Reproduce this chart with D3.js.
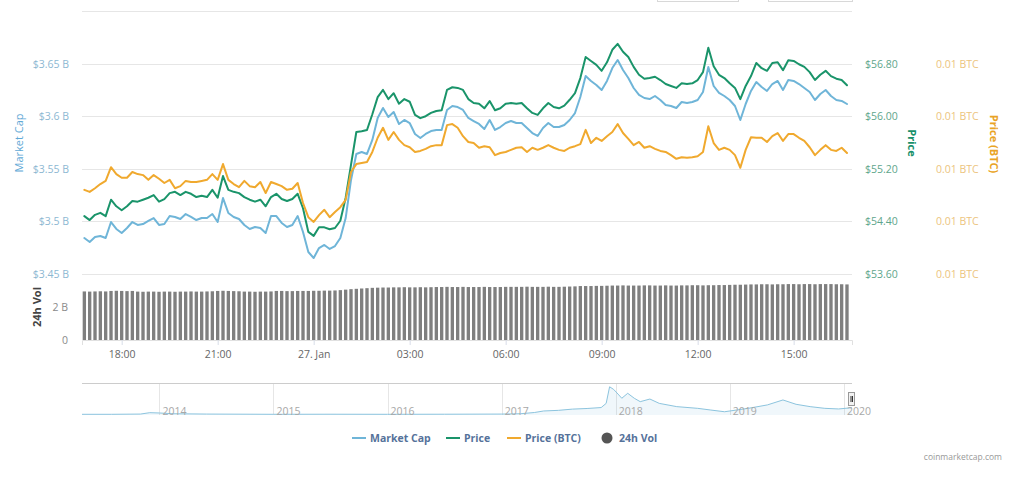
<!DOCTYPE html>
<html><head><meta charset="utf-8">
<script src="https://cdn.jsdelivr.net/npm/d3@7"></script>
<style>
body{margin:0;background:#fff;}
svg{display:block;font-family:"Open Sans",sans-serif;}
</style>
</head><body>
<svg id="chart" width="1024" height="488"></svg>
<script>
// ---------- data ----------
const startTime = new Date(2020, 0, 26, 16, 50);
const stepMinutes = 10;

const marketCap = [3.4842,3.4804,3.4852,3.4861,3.4842,3.4994,3.4928,3.4890,3.4937,3.4994,
 3.4966,3.4975,3.5004,3.5032,3.4966,3.4975,3.5051,3.5042,3.5023,3.5070,
 3.5042,3.5013,3.5032,3.5032,3.5070,3.4994,3.5222,3.5080,3.5042,3.5023,
 3.4966,3.4928,3.4947,3.4937,3.4890,3.5051,3.5051,3.4985,3.4947,3.4966,
 3.5051,3.4899,3.4709,3.4652,3.4747,3.4776,3.4738,3.4766,3.4842,3.5032,
 3.5394,3.5641,3.5660,3.5641,3.5774,3.5983,3.6078,3.5992,3.6040,3.5926,
 3.5964,3.5935,3.5831,3.5793,3.5831,3.5859,3.5869,3.5869,3.6059,3.6097,
 3.6087,3.6059,3.5983,3.5954,3.5926,3.5878,3.5964,3.5869,3.5897,3.5935,
 3.5954,3.5935,3.5935,3.5888,3.5840,3.5812,3.5888,3.5935,3.5897,3.5897,
 3.5916,3.5964,3.6030,3.6183,3.6382,3.6335,3.6297,3.6249,3.6335,3.6458,
 3.6534,3.6439,3.6363,3.6268,3.6202,3.6173,3.6163,3.6192,3.6154,3.6106,
 3.6097,3.6078,3.6135,3.6125,3.6135,3.6154,3.6230,3.6468,3.6287,3.6221,
 3.6192,3.6154,3.6097,3.5964,3.6116,3.6240,3.6325,3.6278,3.6240,3.6306,
 3.6335,3.6249,3.6344,3.6335,3.6306,3.6268,3.6230,3.6154,3.6211,3.6249,
 3.6192,3.6154,3.6145,3.6116];

const price = [54.48,54.42,54.50,54.53,54.48,54.73,54.63,54.57,54.63,54.71,
 54.70,54.73,54.76,54.80,54.70,54.74,54.83,54.85,54.80,54.85,
 54.82,54.77,54.79,54.77,54.88,54.76,55.09,54.88,54.85,54.83,
 54.77,54.73,54.70,54.73,54.63,54.77,54.82,54.74,54.71,54.74,
 54.82,54.60,54.24,54.18,54.31,54.31,54.28,54.30,54.41,54.76,
 55.26,55.76,55.77,55.79,56.03,56.29,56.40,56.26,56.35,56.19,
 56.26,56.22,56.02,55.97,56.00,56.05,56.08,56.09,56.40,56.44,
 56.43,56.40,56.26,56.20,56.19,56.12,56.23,56.09,56.12,56.19,
 56.20,56.19,56.20,56.12,56.05,56.02,56.12,56.20,56.14,56.12,
 56.16,56.25,56.35,56.58,56.90,56.84,56.78,56.69,56.82,57.01,
 57.10,56.98,56.90,56.75,56.63,56.57,56.58,56.60,56.55,56.49,
 56.46,56.43,56.50,56.49,56.50,56.55,56.67,57.04,56.76,56.63,
 56.58,56.50,56.43,56.26,56.46,56.61,56.81,56.73,56.69,56.81,
 56.82,56.70,56.85,56.84,56.79,56.75,56.67,56.55,56.63,56.69,
 56.61,56.57,56.55,56.47];

const priceBTC = [0.006460,0.006456,0.006463,0.006471,0.006477,0.006503,0.006490,0.006483,0.006483,0.006494,
 0.006490,0.006488,0.006479,0.006488,0.006481,0.006473,0.006479,0.006463,0.006467,0.006477,
 0.006475,0.006475,0.006477,0.006479,0.006490,0.006479,0.006509,0.006479,0.006471,0.006465,
 0.006477,0.006467,0.006465,0.006475,0.006454,0.006475,0.006471,0.006467,0.006460,0.006462,
 0.006473,0.006435,0.006408,0.006399,0.006412,0.006422,0.006408,0.006418,0.006427,0.006441,
 0.006494,0.006509,0.006511,0.006513,0.006532,0.006559,0.006578,0.006555,0.006570,0.006555,
 0.006545,0.006541,0.006532,0.006534,0.006538,0.006543,0.006545,0.006545,0.006583,0.006585,
 0.006578,0.006562,0.006551,0.006549,0.006540,0.006543,0.006541,0.006526,0.006530,0.006532,
 0.006536,0.006540,0.006541,0.006532,0.006540,0.006536,0.006540,0.006545,0.006540,0.006536,
 0.006534,0.006540,0.006543,0.006547,0.006574,0.006549,0.006559,0.006553,0.006562,0.006570,
 0.006585,0.006568,0.006557,0.006545,0.006551,0.006540,0.006543,0.006538,0.006534,0.006532,
 0.006526,0.006519,0.006522,0.006521,0.006522,0.006524,0.006532,0.006581,0.006549,0.006536,
 0.006540,0.006536,0.006526,0.006502,0.006536,0.006560,0.006559,0.006559,0.006551,0.006562,
 0.006568,0.006553,0.006566,0.006566,0.006559,0.006553,0.006541,0.006526,0.006536,0.006545,
 0.006536,0.006534,0.006540,0.006530];

const volume24h = [2.97,2.96,2.97,2.98,2.97,3.00,3.01,3.00,2.99,3.00,
 2.96,2.95,2.96,2.96,2.95,2.96,2.96,2.95,2.96,2.96,
 2.97,2.96,2.96,2.97,2.98,3.00,3.01,3.00,2.99,2.98,
 2.96,2.96,2.95,2.96,2.96,2.97,3.00,3.00,2.99,2.99,
 3.00,3.00,3.00,3.01,3.01,3.02,3.02,3.03,3.05,3.08,
 3.11,3.13,3.15,3.17,3.19,3.20,3.21,3.21,3.22,3.22,
 3.23,3.22,3.22,3.23,3.22,3.23,3.24,3.24,3.25,3.24,
 3.24,3.25,3.24,3.24,3.24,3.25,3.24,3.24,3.24,3.25,
 3.25,3.25,3.25,3.26,3.25,3.25,3.25,3.26,3.25,3.25,
 3.26,3.27,3.28,3.30,3.30,3.30,3.31,3.31,3.32,3.33,
 3.33,3.34,3.33,3.33,3.33,3.34,3.34,3.33,3.33,3.34,
 3.33,3.33,3.34,3.34,3.35,3.35,3.34,3.35,3.35,3.36,
 3.36,3.37,3.38,3.38,3.39,3.40,3.40,3.41,3.41,3.40,
 3.41,3.41,3.42,3.42,3.41,3.42,3.42,3.41,3.42,3.42,
 3.42,3.41,3.41,3.40];

const mcTicks = [3.45, 3.5, 3.55, 3.6, 3.65, 3.7];
const priceTicks = [53.6, 54.4, 55.2, 56.0, 56.8];
const btcTicks = [0.0063, 0.0064, 0.0065, 0.0066, 0.0067];
const volTicks = [0, 2];

// navigator history (market cap, $B)
const navDates = ["2013-04-28","2013-08-01","2013-11-01","2013-12-01","2014-01-01","2014-02-15","2014-06-01",
 "2015-01-01","2015-07-01","2016-01-01","2016-07-01","2017-01-01","2017-03-01","2017-04-15","2017-05-15",
 "2017-07-01","2017-08-15","2017-10-01","2017-11-15","2017-12-01","2017-12-12","2017-12-25","2018-01-08",
 "2018-01-20","2018-02-08","2018-03-01","2018-03-20","2018-04-20","2018-05-20","2018-07-15","2018-09-20",
 "2018-11-01","2018-12-15","2019-03-01","2019-05-01","2019-06-20","2019-08-01","2019-09-15","2019-11-01",
 "2019-12-15","2020-01-27"];
const navMarketCap = [0.45,0.45,0.6,1.5,1.3,0.8,0.6,
 0.45,0.5,0.45,0.5,0.6,0.8,1.6,2.6,
 3.0,3.8,4.2,4.8,7.5,18.2,16.5,13.5,
 10.8,14.0,10.8,8.6,10.3,7.5,5.4,4.3,
 3.2,2.1,4.3,6.5,9.7,6.9,5.4,4.3,
 3.9,4.7];
const navYears = [2014, 2015, 2016, 2017, 2018, 2019, 2020];

const legendItems = ["Market Cap", "Price", "Price (BTC)", "24h Vol"];

// ---------- layout ----------
const svg = d3.select("#chart");
const L = 82, R = 852;
const mainTop = 11, mainBot = 274;
const volTop = 274.6, volBot = 340;
const colBlue = "#6fb5d8", colGreen = "#1a946a", colOrange = "#f0a92e", colVol = "#7f7f7f";

const times = marketCap.map((_, i) => new Date(startTime.getTime() + i * stepMinutes * 60000));

const x = d3.scaleTime()
  .domain([new Date(2020, 0, 26, 16, 45, 36), new Date(2020, 0, 27, 16, 49, 24)])
  .range([L, R]);
const yMC = d3.scaleLinear().domain([3.45, 3.70]).range([mainBot, mainTop]);
const yP = d3.scaleLinear().domain([53.6, 57.6]).range([mainBot, mainTop]);
const yB = d3.scaleLinear().domain([0.0063, 0.0068]).range([mainBot, mainTop]);
const yV = d3.scaleLinear().domain([0, 4]).range([volBot, volTop]);

// faint range-input boxes at the very top
svg.append("rect").attr("x", 657.5).attr("y", -20).attr("width", 81).attr("height", 21.5)
  .attr("fill", "none").attr("stroke", "#d8d8d8");
svg.append("rect").attr("x", 768.5).attr("y", -20).attr("width", 84).attr("height", 21.5)
  .attr("fill", "none").attr("stroke", "#d8d8d8");

// gridlines
svg.append("g").selectAll("line").data(mcTicks).join("line")
  .attr("x1", L).attr("x2", R)
  .attr("y1", d => Math.round(yMC(d)) + 0.5).attr("y2", d => Math.round(yMC(d)) + 0.5)
  .attr("stroke", "#e6e6e6");

// left axis labels
svg.append("g").selectAll("text").data(mcTicks.filter(d => d < 3.7)).join("text")
  .attr("x", 69).attr("y", d => yMC(d) + 4)
  .attr("text-anchor", "end").attr("font-size", 10.5).attr("fill", "#8db8d2")
  .text(d => "$" + d3.format(".3~f")(d) + " B");

// right axis labels
svg.append("g").selectAll("text").data(priceTicks).join("text")
  .attr("x", 865).attr("y", d => yP(d) + 4)
  .attr("font-size", 10.5).attr("fill", "#5ea68c")
  .text(d => "$" + d3.format(".2f")(d));
svg.append("g").selectAll("text").data(btcTicks).join("text")
  .attr("x", 936).attr("y", d => yB(d) + 4)
  .attr("font-size", 10.5).attr("fill", "#ecc47e")
  .text(d => d3.format(".2f")(d) + " BTC");

// volume labels
svg.append("g").selectAll("text").data(volTicks).join("text")
  .attr("x", 68).attr("y", d => yV(d) + 4)
  .attr("text-anchor", "end").attr("font-size", 10.5).attr("fill", "#8a8a8a")
  .text(d => d === 0 ? "0" : d + " B");

// axis titles
svg.append("text").attr("transform", "translate(23,143) rotate(-90)")
  .attr("text-anchor", "middle").attr("font-size", 11).attr("fill", "#5fa9d6").text("Market Cap");
svg.append("text").attr("transform", "translate(41,307) rotate(-90)")
  .attr("text-anchor", "middle").attr("font-size", 11).attr("font-weight", 700).attr("fill", "#444").text("24h Vol");
svg.append("text").attr("transform", "translate(908,143) rotate(90)")
  .attr("text-anchor", "middle").attr("font-size", 11).attr("font-weight", 700).attr("fill", "#17906a").text("Price");
svg.append("text").attr("transform", "translate(990,144) rotate(90)")
  .attr("text-anchor", "middle").attr("font-size", 11).attr("font-weight", 700).attr("fill", "#e9a325").text("Price (BTC)");

// volume bars
const step = x(times[1]) - x(times[0]);
const bw = step - 2;
svg.append("g").selectAll("rect").data(volume24h).join("rect")
  .attr("x", (d, i) => x(times[i]) - bw / 2)
  .attr("width", bw)
  .attr("y", d => yV(d))
  .attr("height", d => volBot - yV(d))
  .attr("fill", colVol);

// x axis
const xTicks = d3.timeHour.every(3).range(new Date(2020, 0, 26, 18), new Date(2020, 0, 27, 16, 50));
const fmtX = d => d.getHours() === 0 ? d3.timeFormat("%-d. %b")(d) : d3.timeFormat("%H:%M")(d);
const xAxis = svg.append("g").attr("transform", `translate(0,${volBot})`)
  .call(d3.axisBottom(x).tickValues(xTicks).tickFormat(fmtX).tickSize(5).tickPadding(6));
xAxis.select(".domain").attr("stroke", "#e0e0e0");
xAxis.selectAll(".tick line").attr("stroke", "#d8dde8");
xAxis.selectAll(".tick text").attr("font-family", "Open Sans").attr("font-size", 10.5).attr("fill", "#666");

// lines
const mk = (arr, ys) => d3.line().x((d, i) => x(times[i])).y(d => ys(d)).curve(d3.curveLinear)(arr);
const lines = [[marketCap, yMC, colBlue], [price, yP, colGreen], [priceBTC, yB, colOrange]];
lines.forEach(([arr, ys, c]) => {
  svg.append("path").attr("d", mk(arr, ys)).attr("fill", "none").attr("stroke", c)
    .attr("stroke-width", 2).attr("stroke-linejoin", "round").attr("stroke-linecap", "round");
});

// ---------- navigator ----------
const navTop = 383, navBot = 415;
const parse = d3.timeParse("%Y-%m-%d");
const nd = navDates.map(parse);
const xn = d3.scaleTime().domain([parse("2013-04-28"), parse("2020-01-27")]).range([L, R]);
const yn = d3.scaleLinear().domain([0, 20]).range([navBot, navTop + 1]);

svg.append("g").selectAll("line").data(navYears).join("line")
  .attr("x1", d => Math.round(xn(new Date(d, 0, 1))) + 0.5).attr("x2", d => Math.round(xn(new Date(d, 0, 1))) + 0.5)
  .attr("y1", navTop).attr("y2", navBot).attr("stroke", "#e6e6e6");

svg.append("path")
  .attr("d", d3.area().x((d, i) => xn(nd[i])).y0(navBot).y1(d => yn(d))(navMarketCap))
  .attr("fill", "#6fb5d8").attr("fill-opacity", 0.1);
svg.append("path")
  .attr("d", d3.line().x((d, i) => xn(nd[i])).y(d => yn(d))(navMarketCap))
  .attr("fill", "none").attr("stroke", "#8cc4de").attr("stroke-width", 1);

svg.append("g").selectAll("text").data(navYears).join("text")
  .attr("x", d => xn(new Date(d, 0, 1)) + 3).attr("y", 415)
  .attr("font-size", 10.5).attr("fill", "#a8a8a8").text(d => d);

svg.append("line").attr("x1", L).attr("x2", R).attr("y1", navTop + 0.5).attr("y2", navTop + 0.5)
  .attr("stroke", "#cccccc");
// navigator handle
const hx = xn(parse("2020-01-27")) - 3.5;
svg.append("rect").attr("x", hx).attr("y", 392.5).attr("width", 6).attr("height", 13)
  .attr("fill", "#f2f2f2").attr("stroke", "#999");
svg.append("line").attr("x1", hx + 2.5).attr("x2", hx + 2.5).attr("y1", 396).attr("y2", 402).attr("stroke", "#333");
svg.append("line").attr("x1", hx + 4).attr("x2", hx + 4).attr("y1", 396).attr("y2", 402).attr("stroke", "#333");

// ---------- legend ----------
const legX = [352, 446, 507, 602];
const legColors = [colBlue, colGreen, colOrange, "#555"];
const lg = svg.append("g").attr("font-size", 10.5).attr("font-weight", 700).attr("fill", "#55729a");
legendItems.forEach((name, i) => {
  if (i < 3) {
    lg.append("line").attr("x1", legX[i]).attr("x2", legX[i] + 14).attr("y1", 438).attr("y2", 438)
      .attr("stroke", legColors[i]).attr("stroke-width", 2);
  } else {
    lg.append("circle").attr("cx", legX[i] + 5).attr("cy", 438).attr("r", 5.5).attr("fill", legColors[i]);
  }
  lg.append("text").attr("x", legX[i] + (i < 3 ? 18 : 17)).attr("y", 442).text(name);
});

// credits
svg.append("text").attr("x", 1002).attr("y", 460).attr("text-anchor", "end")
  .attr("font-size", 8.5).attr("fill", "#999").text("coinmarketcap.com");
</script>
</body></html>
